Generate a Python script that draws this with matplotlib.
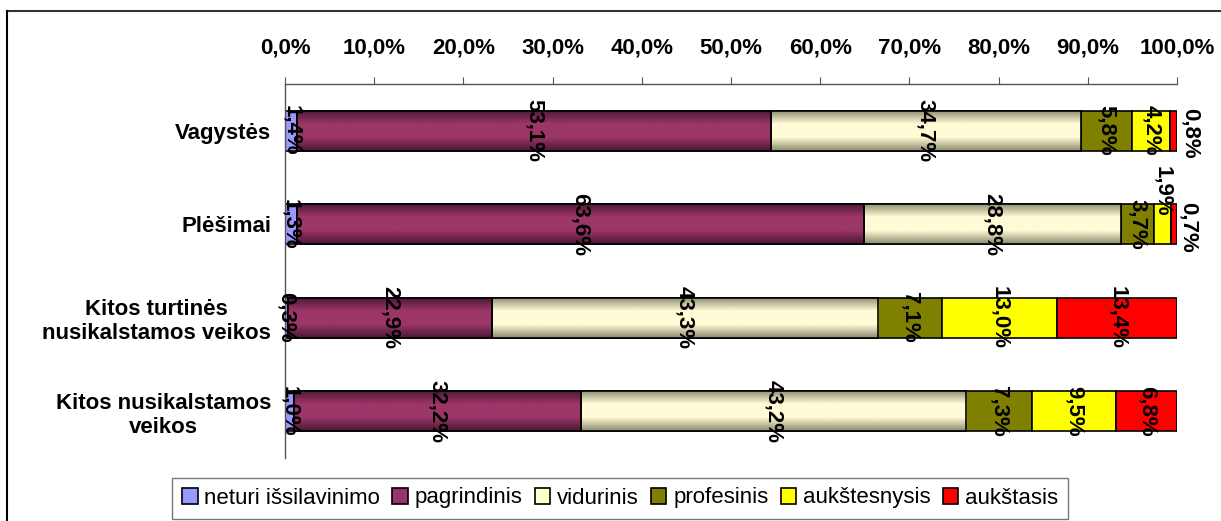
import matplotlib
matplotlib.use("Agg")
import matplotlib.pyplot as plt
import numpy as np
from matplotlib.colors import LinearSegmentedColormap
from matplotlib.lines import Line2D

plt.rcParams['font.family'] = ['Liberation Sans', 'DejaVu Sans']

# data
categories = ['Vagystės', 'Plėšimai', 'Kitos turtinės\nnusikalstamos veikos',
              'Kitos nusikalstamos\nveikos']
series = ['neturi išsilavinimo', 'pagrindinis', 'vidurinis', 'profesinis',
          'aukštesnysis', 'aukštasis']
neturi = [1.4, 1.3, 0.3, 1.0]
pagrindinis = [53.1, 63.6, 22.9, 32.2]
vidurinis = [34.7, 28.8, 43.3, 43.2]
profesinis = [5.8, 3.7, 7.1, 7.3]
aukstesnysis = [4.2, 1.9, 13.0, 9.5]
aukstasis = [0.8, 0.7, 13.4, 6.8]
ticks = [0, 10, 20, 30, 40, 50, 60, 70, 80, 90, 100]

values = [neturi, pagrindinis, vidurinis, profesinis, aukstesnysis, aukstasis]
colors = ['#9999FF', '#993366', '#FFFFCC', '#808000', '#FFFF00', '#FF0000']
# gradient shading (edge, middle) for the two shaded series
shade = {1: ('#4a1833', '#9c3668'), 2: ('#8c8a70', '#fffbd6')}
# label nudges in points (dx, dy) for crowded segments, dy up
nudge = {(0, 5): (12, -2), (1, 4): (0, 24), (1, 5): (10, -2)}

fig = plt.figure(figsize=(12.21, 5.21), dpi=100)
ax = fig.add_axes([285 / 1221, 1 - 458 / 521, 892 / 1221, 374 / 521])

y = np.arange(len(categories))
h = 0.43
left = np.zeros(len(categories))
for j, vals in enumerate(values):
    vals = np.array(vals)
    bars = ax.barh(y, vals, left=left, height=h, color=colors[j],
                   edgecolor='black', linewidth=1.2, label=series[j], zorder=2)
    if j in shade:
        c0, c1 = shade[j]
        cmap = LinearSegmentedColormap.from_list('g', [c0, c1, c1, c0])
        grad = np.linspace(0, 1, 100).reshape(-1, 1)
        for b in bars:
            x0, y0 = b.get_x(), b.get_y()
            im = ax.imshow(grad, cmap=cmap, aspect='auto', zorder=2.5,
                           extent=[x0, x0 + b.get_width(), y0 + b.get_height(), y0],
                           interpolation='bilinear')
            im.set_clip_path(b)
            ax.add_patch(plt.Rectangle((x0, y0), b.get_width(), b.get_height(),
                                       fill=False, edgecolor='black', lw=1.2, zorder=3))
    for i, v in enumerate(vals):
        dx, dy = nudge.get((i, j), (0, 0))
        ax.annotate(f'{v:.1f}%'.replace('.', ','), (left[i] + v / 2, y[i]),
                    xytext=(dx, dy), textcoords='offset points',
                    ha='center', va='center', rotation=-90, fontsize=16,
                    fontweight='bold', zorder=5)
    left += vals

ax.set_xlim(0, 100)
ax.set_ylim(3.5, -0.5)
ax.xaxis.tick_top()
ax.set_xticks(ticks)
ax.set_xticklabels([f'{t:.1f}%'.replace('.', ',') for t in ticks],
                   fontsize=16, fontweight='bold')
ax.tick_params(axis='x', length=5, color='#555555', pad=13)
ax.set_yticks(y)
ax.set_yticklabels(categories, fontsize=16, fontweight='bold')
for lbl in ax.get_yticklabels():
    lbl.set_multialignment('center')
ax.tick_params(axis='y', length=0, pad=10)
for s in ['right', 'bottom']:
    ax.spines[s].set_visible(False)
for s in ['top', 'left']:
    ax.spines[s].set_color('#555555')
    ax.spines[s].set_linewidth(1)

handles = [plt.Rectangle((0, 0), 1, 1, facecolor=c, edgecolor='black', lw=1.2)
           for c in colors]
leg = fig.legend(handles, series, loc='center', ncol=6,
                 bbox_to_anchor=(620 / 1221, 1 - 498 / 521), fontsize=16,
                 frameon=True, fancybox=False, edgecolor='#555555',
                 handlelength=0.7, handleheight=0.7, handletextpad=0.3,
                 columnspacing=0.55, borderpad=0.45)
leg.get_frame().set_linewidth(1)

# outer chart frame
fig.add_artist(Line2D([6.5 / 1221, 1], [1 - 11 / 521] * 2, color='#333333', lw=1.5))
fig.add_artist(Line2D([6.5 / 1221] * 2, [0, 1 - 11 / 521], color='black', lw=1.5))

fig.savefig('out.png', dpi=100)
